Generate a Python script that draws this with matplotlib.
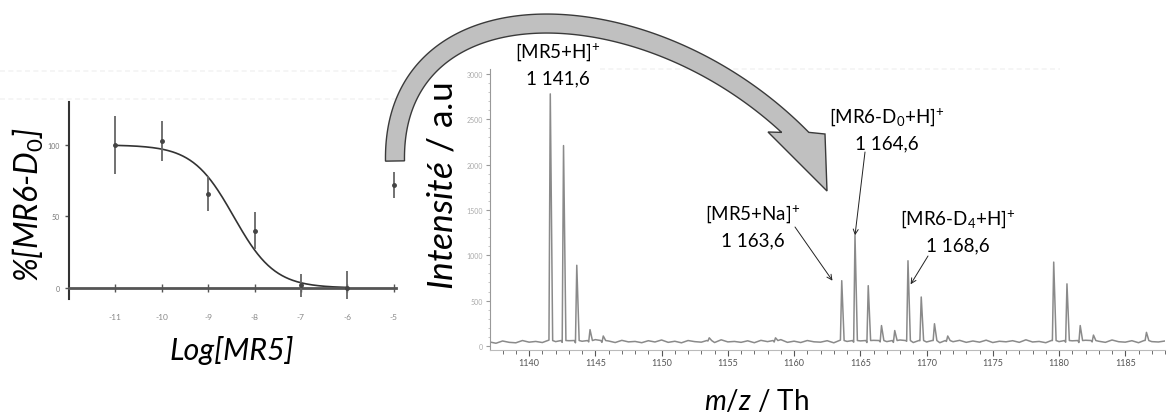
import numpy as np
import matplotlib
matplotlib.use("Agg")
import matplotlib.pyplot as plt
from matplotlib.patches import Polygon

plt.rcParams['font.family'] = ['Lato', 'DejaVu Sans']
plt.rcParams['mathtext.fontset'] = 'custom'
plt.rcParams['mathtext.rm'] = 'Lato'
plt.rcParams['mathtext.it'] = 'Lato:italic'

# dose-response (left panel)
log_conc = [-11, -10, -9, -8, -7, -6, -5]
pct_d0 = [100, 103, 66, 40, 2, 0, 72]
pct_err = [20, 14, 12, 13, 8, 12, 9]
fit_top, fit_bottom = 100, 0
fit_logic50 = -8.45
fit_hill = 0.98
fit_range = (-11, -6)

# mass spectrum (right panel)
noise = [45, 30, 55, 40, 35, 60, 42, 50, 38, 65, 48, 40, 58, 35, 52, 45,
         70, 40, 55, 38, 62, 45, 50, 36, 58, 44, 66, 40, 52, 35, 60, 48,
         42, 55, 38, 68, 45, 50, 40, 57, 36, 62, 48, 44, 70, 40, 53, 38,
         60, 46, 42, 58, 35, 65, 50, 42, 56, 38, 62, 45, 48, 40, 66, 52,
         38, 58, 44, 60, 36, 50, 47, 62, 40, 55, 42, 64, 38, 52, 46, 58,
         40, 68, 44, 50, 36, 60, 48, 42, 57, 38, 63, 45, 52, 40, 66, 47,
         42, 58, 36, 61, 48, 44, 55, 40]
noise_start, noise_step = 1137.0, 0.5
peak_mz = [1141.6, 1142.6, 1143.6, 1144.6, 1145.6, 1153.6, 1158.6,
           1163.6, 1164.6, 1165.6, 1166.6, 1167.6, 1168.6, 1169.6, 1170.6, 1171.6,
           1179.6, 1180.6, 1181.6, 1182.6, 1186.6]
peak_int = [2780, 2210, 890, 180, 110, 90, 90,
            720, 1220, 665, 225, 170, 940, 540, 245, 110,
            925, 685, 225, 120, 150]

labels = [r"[MR5+H]$^{+}$", r"[MR5+Na]$^{+}$", r"[MR6-D$_{0}$+H]$^{+}$", r"[MR6-D$_{4}$+H]$^{+}$"]
label_mz = ["1 141,6", "1 163,6", "1 164,6", "1 168,6"]

W, H = 1173, 414
fig = plt.figure(figsize=(W / 100, H / 100), dpi=100)


def fx(px):
    return px / W


def fy(py):
    return 1 - py / H


# faint scan lines from the original figure
for y0, x0, x1 in [(72, 0, 400), (100, 0, 400), (70, 600, 1060)]:
    fig.add_artist(plt.Line2D([fx(x0), fx(x1)], [fy(y0), fy(y0)], color='#f3f3f3',
                              lw=1.2, ls=(0, (3, 2)), transform=fig.transFigure, zorder=0))

# ---- left panel
ax1 = fig.add_axes([fx(69), fy(300), fx(396) - fx(69), fy(103) - fy(300)])
ax1.patch.set_alpha(0)
ax1.set_xlim(-12, -4.95)
ax1.set_ylim(-7.7, 130)
ax1.errorbar(log_conc, pct_d0, yerr=pct_err, fmt='o', ms=2.5, color='#444',
             ecolor='#666', elinewidth=1.3, capsize=0, zorder=3)
xs = np.linspace(fit_range[0], fit_range[1], 200)
ys = fit_bottom + (fit_top - fit_bottom) / (1 + 10 ** ((xs - fit_logic50) * fit_hill))
ax1.plot(xs, ys, color='#333', lw=1.2)
for s in ['top', 'right']:
    ax1.spines[s].set_visible(False)
ax1.spines['left'].set_color('#333')
ax1.spines['left'].set_linewidth(1.5)
ax1.spines['bottom'].set_position(('data', 0))
ax1.spines['bottom'].set_color('#555')
ax1.spines['bottom'].set_linewidth(2)
ax1.set_xticks(log_conc)
ax1.set_xticklabels([str(v) for v in log_conc])
ax1.set_yticks([0, 50, 100])
ax1.tick_params(axis='x', direction='inout', length=6, width=1, color='#555',
                labelsize=6, labelcolor='#888', pad=15)
ax1.tick_params(axis='y', direction='out', length=3, width=1, color='#555',
                labelsize=5, labelcolor='#777')

# ---- right panel
ax2 = fig.add_axes([fx(490), fy(350.6), fx(1165) - fx(490), fy(69.5) - fy(350.6)])
ax2.patch.set_alpha(0)
base_mz = noise_start + noise_step * np.arange(len(noise))
pts = list(zip(base_mz, noise))
for m, h in zip(peak_mz, peak_int):
    pts += [(m - 0.18, 60), (m, h), (m + 0.18, 60)]
pts.sort()
mz, inten = zip(*pts)
ax2.plot(mz, inten, color='#8a8a8a', lw=1.1)
ax2.set_xlim(1137.05, 1188.0)
ax2.set_ylim(-40, 3060)
for s in ['top', 'right']:
    ax2.spines[s].set_visible(False)
ax2.spines['left'].set_color('#999')
ax2.spines['bottom'].set_color('#bbb')
ax2.set_xticks(np.arange(1140, 1190, 5))
ax2.set_xticks(np.arange(1138, 1189, 1), minor=True)
ax2.set_yticks(np.arange(0, 3001, 500))
ax2.set_yticks(np.arange(0, 3001, 100), minor=True)
ax2.tick_params(axis='x', which='major', direction='out', length=4, color='#555',
                labelsize=6.5, labelcolor='#555', pad=2)
ax2.tick_params(axis='x', which='minor', direction='out', length=3, color='#555')
ax2.tick_params(axis='y', which='major', direction='out', length=3, color='#999',
                labelsize=5, labelcolor='#aaa', pad=2)
ax2.tick_params(axis='y', which='minor', direction='out', length=1.5, color='#bbb')

# ---- axis titles
fig.text(fx(28), fy(205), r"%[MR6-D$_{\mathit{0}}$]", rotation=90, fontsize=23,
         style='italic', ha='center', va='center')
fig.text(fx(232), fy(360), "Log[MR5]", fontsize=22, style='italic',
         ha='center', va='baseline')
fig.text(fx(443), fy(186), r"$\mathit{Intensité}$ / a.u", rotation=90, fontsize=25.5,
         ha='center', va='center')
fig.text(fx(757), fy(410), r"$\mathit{m/z}$ / Th", fontsize=20,
         ha='center', va='baseline')

# ---- peak annotations
lab_x = [558, 753, 887, 958]
lab_y = [58, 220, 123, 225]
for i in range(4):
    fig.text(fx(lab_x[i]), fy(lab_y[i]), labels[i], fontsize=13.5, ha='center', va='baseline')
    fig.text(fx(lab_x[i]), fy(lab_y[i] + 26), label_mz[i], fontsize=13.5, ha='center', va='baseline')

arrow_from = [(795, 228), (865, 153), (928, 257)]
arrow_to = [(1162.9, 720), (1164.6, 1220), (1168.8, 680)]
for (px, py), tgt in zip(arrow_from, arrow_to):
    ax2.annotate('', xy=tgt, xycoords='data', xytext=(fx(px), fy(py)),
                 textcoords='figure fraction',
                 arrowprops=dict(arrowstyle='->', lw=0.7, color='#222',
                                 shrinkA=0, shrinkB=0, mutation_scale=9))

# ---- big curved arrow (pixel geometry)
P = np.array([[395, 162], [392, -20], [650, -15], [802, 140]], dtype=float)
t = np.linspace(0, 1, 400)[:, None]
B = ((1 - t) ** 3) * P[0] + 3 * ((1 - t) ** 2) * t * P[1] + 3 * (1 - t) * t ** 2 * P[2] + t ** 3 * P[3]
dB = 3 * ((1 - t) ** 2) * (P[1] - P[0]) + 6 * (1 - t) * t * (P[2] - P[1]) + 3 * t ** 2 * (P[3] - P[2])
n = np.column_stack([-dB[:, 1], dB[:, 0]])
n /= np.linalg.norm(n, axis=1)[:, None]
hw = 9.5
inner = B + hw * n
outer = B - hw * n


def cut(edge):
    base_y = 133 + (edge[:, 0] - 768) * 2 / 57
    idx = np.where((t[:, 0] > 0.5) & (edge[:, 1] >= base_y))[0]
    return edge[:idx[0]] if len(idx) else edge


outer = cut(outer)
inner = cut(inner)
head = np.array([[825, 135], [827, 192], [768, 133]], dtype=float)
poly_px = np.vstack([outer, head, inner[::-1]])
poly = Polygon(np.column_stack([fx(poly_px[:, 0]), fy(poly_px[:, 1])]), closed=True,
               transform=fig.transFigure, fc='#c0c0c0', ec='#3a3a3a', lw=1, zorder=10)
fig.add_artist(poly)

fig.savefig('out.png', dpi=100)
